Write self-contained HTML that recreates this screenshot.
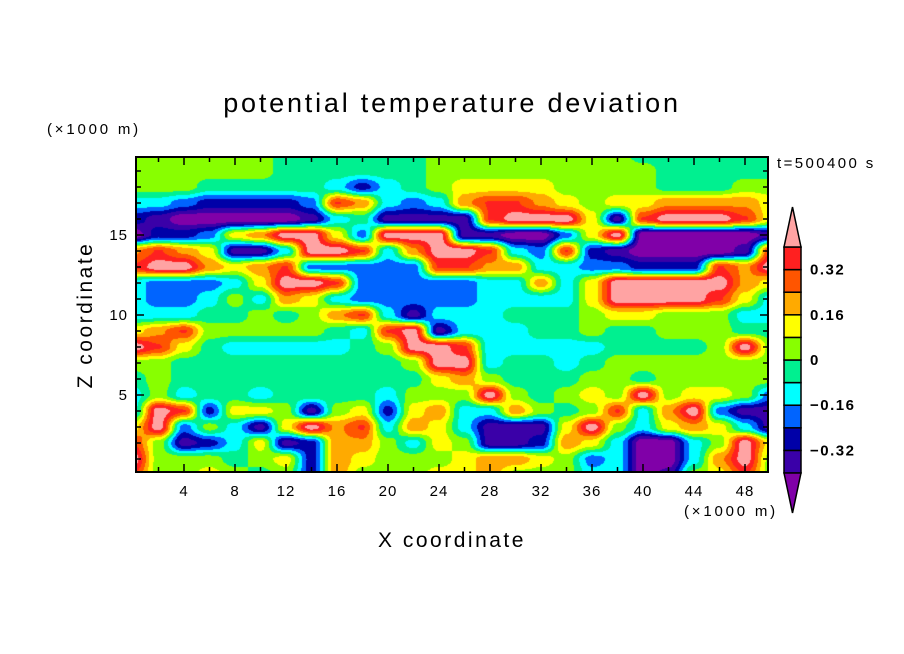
<!DOCTYPE html>
<html><head><meta charset="utf-8">
<style>
html,body{margin:0;padding:0;background:#fff;}
#wrap{position:relative;width:904px;height:654px;overflow:hidden;font-family:"Liberation Sans",sans-serif;}
canvas{position:absolute;left:136px;top:157px;}
svg{position:absolute;left:0;top:0;}
</style></head>
<body>
<div id="wrap">
<canvas id="field" width="632" height="315"></canvas>
<svg id="ov" width="904" height="654"></svg>
</div>
<script>
// ---- data ----
const xGrid = [0,2,4,6,8,10,12,14,16,18,20,22,24,26,28,30,32,34,36,38,40,42,44,46,48,50];
const zGrid = [20,19,18,17,16,15,14,13,12,11,10,9,8,7,6,5,4,3,2,1,0];
const levels = [-0.4,-0.32,-0.24,-0.16,-0.08,0,0.08,0.16,0.24,0.32,0.4];
const levelColors = ["#8000a8","#3a00a8","#0000a8","#0064ff","#00ffff","#00f090","#88ff00","#ffff00","#ffaa00","#ff5500","#ff2020","#ffa3a3"];
const xTicks = [4,8,12,16,20,24,28,32,36,40,44,48];
const zTicks = [5,10,15];
const cbLabels = [0.32,0.16,0,-0.16,-0.32];
const row20=[.04,.04,.04,.04,.04,.04,-.04,-.04,-.04,-.04,-.04,-.04,.04,.04,.04,.04,.04,.04,.04,.04,-.04,-.04,-.04,-.04,-.04,-.04];
const row19=[.04,.04,.04,.04,.04,.04,-.04,-.04,-.04,-.04,-.04,-.04,.04,.04,.04,.04,.04,.04,.04,.04,.04,-.04,-.04,-.04,-.04,-.04];
const row18=[.04,.04,.04,-.04,-.04,-.04,-.04,-.04,-.12,-.28,-.12,-.04,.04,.12,.12,.12,.12,.04,.04,.04,.04,-.04,-.04,-.04,.04,.04];
const row17=[-.12,-.12,-.2,-.28,-.28,-.28,-.28,-.2,.33,.22,-.12,-.2,-.12,.22,.33,.33,.22,.12,.04,.12,.12,.22,.22,.22,.22,.12];
const row16=[-.28,-.36,-.46,-.46,-.46,-.46,-.46,-.36,-.12,-.04,-.36,-.36,-.36,-.36,.33,.45,.45,.45,.12,-.36,.33,.45,.45,.45,.33,.12];
const row15=[-.46,-.28,-.28,-.2,.12,.22,.45,.45,.12,-.2,.45,.45,.45,-.36,-.36,-.46,-.46,-.2,.12,.45,-.46,-.46,-.46,-.46,-.46,-.36];
const row14=[.22,.33,.22,.12,-.36,-.36,-.12,.45,.45,.33,-.12,.22,.45,.45,.33,-.12,-.2,.33,-.28,-.36,-.46,-.46,-.46,-.46,-.36,.33];
const row13=[.33,.45,.45,.22,.12,.22,.33,-.2,-.2,-.2,-.2,-.2,.33,.33,.22,.22,-.12,-.12,-.2,-.2,-.28,-.28,-.28,.33,.22,.45];
const row12=[-.12,-.2,-.2,-.2,-.12,.12,.45,.45,.33,-.2,-.2,-.2,-.2,-.2,-.12,-.12,.22,-.12,.12,.45,.45,.45,.45,.45,.22,.12];
const row11=[-.12,-.2,-.2,-.12,.04,-.12,.22,.12,-.12,-.2,-.2,-.2,-.2,-.2,-.12,-.12,-.12,-.12,.12,.45,.45,.45,.45,.33,.12,-.12];
const row10=[-.12,-.12,-.12,-.04,-.04,.04,-.04,.04,.22,.33,-.12,-.36,-.12,-.12,-.12,-.04,-.04,-.04,.04,.12,.12,.04,.04,.04,-.12,-.12];
const row9=[.12,.22,.33,.04,.04,.04,.04,.04,-.04,-.12,.33,.45,-.36,-.12,-.12,-.12,-.04,-.04,.04,-.04,-.04,.04,.04,.04,-.04,-.04];
const row8=[.45,.33,.12,-.04,-.12,-.12,-.12,-.12,-.12,-.04,.04,.45,.45,.33,-.12,-.12,-.12,-.12,-.12,-.04,-.04,-.04,-.04,.04,.45,.04];
const row7=[.04,.04,-.04,-.04,-.04,-.04,-.04,-.04,-.04,-.04,-.04,.04,.45,.45,-.12,-.04,-.04,-.12,-.04,.04,.04,.04,.04,.04,.04,.04];
const row6=[-.04,.04,-.04,-.04,-.04,-.04,-.04,-.04,-.04,-.04,-.04,-.04,.12,.22,.04,-.04,-.04,-.04,.04,.04,-.04,.04,.04,.04,.04,.04];
const row5=[-.12,.04,-.12,-.04,-.04,-.12,-.04,-.04,-.04,-.04,-.12,.04,.04,.04,.45,.04,-.04,.04,.12,.04,.45,.04,.12,.12,.04,-.2];
const row4=[-.12,.45,.33,-.28,.12,.12,.04,-.36,.04,.12,-.28,.12,.22,-.12,-.12,.22,.04,-.04,.04,.33,-.12,.22,.45,-.2,-.36,-.36];
const row3=[.12,.45,-.2,.04,-.12,-.36,.12,.45,.22,.33,-.12,.22,.12,-.12,-.36,-.36,-.36,.12,.45,.04,-.12,.12,.22,.12,-.12,-.36];
const row2=[.33,.04,-.36,-.28,-.12,.12,-.36,-.28,.22,.22,.04,-.12,.12,.04,-.36,-.36,-.28,.22,.12,-.12,-.46,-.46,-.12,.04,.45,.12];
const row1=[.45,.04,.04,.04,-.04,.04,.12,-.28,.22,.12,.04,.04,.04,.12,.22,.22,.12,.04,-.2,-.12,-.46,-.46,-.12,.22,.45,.04];
const row0=[.33,.04,.04,.12,.04,-.04,.04,-.28,.22,.04,.04,.04,.12,.12,.22,.04,.04,.04,-.12,-.12,-.46,-.36,.04,.12,.33,.04];
const field=[row20,row19,row18,row17,row16,row15,row14,row13,row12,row11,row10,row9,row8,row7,row6,row5,row4,row3,row2,row1,row0];

// ---- axes ----
const X0=133, XS=12.75, Z0=475, ZS=16;
function xScale(v){return X0+v*XS;}
function zScale(v){return Z0-v*ZS;}
function xInv(p){return (p-X0)/XS;}
function zInv(p){return (Z0-p)/ZS;}
const cbTop=247, cbStep=22.6;
function cbScale(v){return cbTop+(0.4-v)/0.08*cbStep;}
function ease(t){return t*t*(3-2*t);}

function sample(x,z){
  const dx=xGrid[1]-xGrid[0];
  let fx=(x-xGrid[0])/dx; fx=Math.max(0,Math.min(xGrid.length-1.0001,fx));
  let fz=(zGrid[0]-z)/(zGrid[0]-zGrid[1]); fz=Math.max(0,Math.min(zGrid.length-1.0001,fz));
  const i=Math.floor(fx), j=Math.floor(fz), a=ease(fx-i), b=ease(fz-j);
  return field[j][i]*(1-a)*(1-b)+field[j][i+1]*a*(1-b)+field[j+1][i]*(1-a)*b+field[j+1][i+1]*a*b;
}
function hex(c){return [parseInt(c.slice(1,3),16),parseInt(c.slice(3,5),16),parseInt(c.slice(5,7),16)];}

const cv=document.getElementById('field'), ctx=cv.getContext('2d');
const img=ctx.createImageData(cv.width,cv.height);
const rgb=levelColors.map(hex);
for(let py=0;py<cv.height;py++){for(let px=0;px<cv.width;px++){
  const v=sample(xInv(136+px+0.5),zInv(157+py+0.5));
  let k=0;while(k<levels.length&&v>=levels[k])k++;
  const o=(py*cv.width+px)*4;img.data[o]=rgb[k][0];img.data[o+1]=rgb[k][1];img.data[o+2]=rgb[k][2];img.data[o+3]=255;}}
ctx.putImageData(img,0,0);

const NS='http://www.w3.org/2000/svg', svg=document.getElementById('ov');
function mk(tag,attrs,txt){const e=document.createElementNS(NS,tag);for(const k in attrs)e.setAttribute(k,attrs[k]);if(txt!==undefined)e.textContent=txt;svg.appendChild(e);return e;}
const L=136,R=768,T=157,B=472;
let e;
for(let v=2;v<=48;v+=2){const x=xScale(v),len=(v%4===0)?8:5;
  e=mk('line',{x1:x,y1:B,x2:x,y2:B-len,stroke:'#000','stroke-width':1.5});
  
  
  e=mk('line',{x1:x,y1:T,x2:x,y2:T+len,stroke:'#000','stroke-width':1.5});
  
  }
for(let v=1;v<=19;v++){const y=zScale(v),len=(v%5===0)?8:5;
  e=mk('line',{x1:L,y1:y,x2:L+len,y2:y,stroke:'#000','stroke-width':1.5});
  
  
  e=mk('line',{x1:R,y1:y,x2:R-len,y2:y,stroke:'#000','stroke-width':1.5});
  
  }
e=mk('rect',{x:L,y:T,width:R-L,height:B-T,fill:'none',stroke:'#000','stroke-width':2});


xTicks.forEach(v=>{e=mk('text',{x:xScale(v),y:496,'text-anchor':'middle','font-size':15,'letter-spacing':1,fill:'#000'},String(v));
  
  });
zTicks.forEach(v=>{e=mk('text',{x:128,y:zScale(v)+5,'text-anchor':'end','font-size':15,'letter-spacing':1,fill:'#000'},String(v));
  
  });
e=mk('text',{x:684,y:516,'font-size':15,'letter-spacing':2.8,fill:'#000'},'(×1000 m)');


e=mk('text',{x:47,y:134,'font-size':15,'letter-spacing':2.8,fill:'#000'},'(×1000 m)');


e=mk('text',{x:452,y:547,'text-anchor':'middle','font-size':21,'letter-spacing':2.5,fill:'#000'},'X coordinate');


e=mk('text',{x:92,y:315,'text-anchor':'middle','font-size':21,'letter-spacing':2.5,fill:'#000',transform:'rotate(-90 92 315)'},'Z coordinate');


e=mk('text',{x:452,y:112,'text-anchor':'middle','font-size':27,'letter-spacing':2.8,fill:'#000'},'potential temperature deviation');


e=mk('text',{x:777,y:168,'font-size':15,'letter-spacing':2.4,fill:'#000'},'t=500400 s');


const cL=784,cR=801,cM=(cL+cR)/2;
for(let k=1;k<levels.length;k++){
  e=mk('rect',{x:cL,y:cbScale(levels[k]),width:cR-cL,height:cbScale(levels[k-1])-cbScale(levels[k]),fill:levelColors[k],stroke:'#000','stroke-width':1.5});
  
  }
e=mk('polygon',{points:`${cL},${cbScale(0.4)} ${cR},${cbScale(0.4)} ${cM},207`,fill:levelColors[11],stroke:'#000','stroke-width':1.5});


e=mk('polygon',{points:`${cL},${cbScale(-0.4)} ${cR},${cbScale(-0.4)} ${cM},513`,fill:levelColors[0],stroke:'#000','stroke-width':1.5});


cbLabels.forEach(v=>{e=mk('text',{x:810,y:cbScale(v)+5,'font-size':15,'font-weight':'bold','letter-spacing':1.5,fill:'#000'},(v<0?'−':'')+String(Math.abs(v)));
  
  });
</script>
</body></html>
